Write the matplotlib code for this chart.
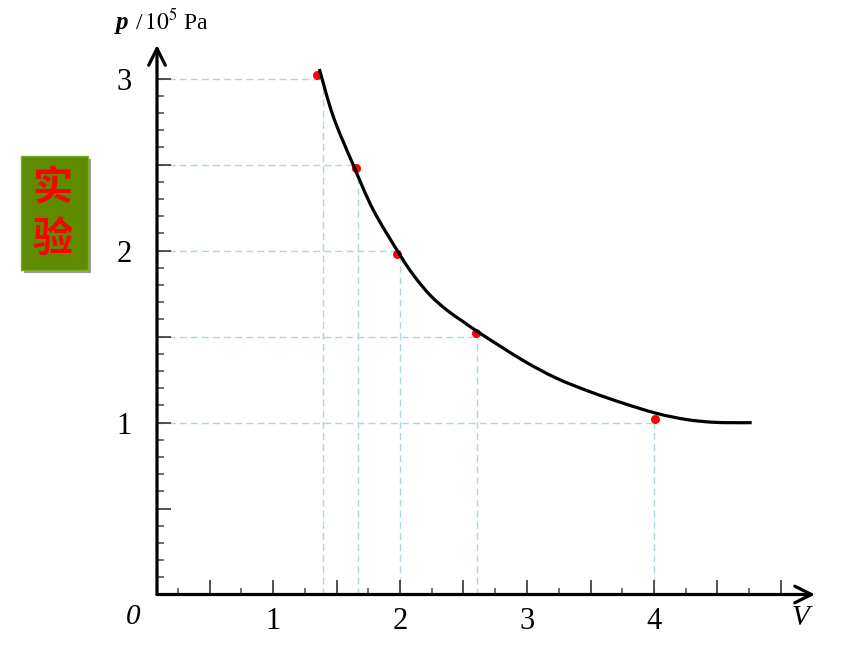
import numpy as np
import matplotlib
matplotlib.use('Agg')
import matplotlib.pyplot as plt
from matplotlib.patches import Rectangle, PathPatch
from matplotlib.path import Path

plt.rcParams['mathtext.fontset'] = 'stix'

# Dashed guide lines (V, p) for the measured states
grid_v = [1.39, 1.67, 2.0, 2.61, 4.0]
grid_p = [3.0, 2.5, 2.0, 1.5, 1.0]

# Measured points (red dots)
point_v = [1.35, 1.65, 1.98, 2.60, 4.01]
point_p = [3.02, 2.48, 1.98, 1.52, 1.02]

# Hand drawn curve through the points
curve_v = [1.365, 1.475, 1.632, 1.790, 2.000, 2.105, 2.236, 2.368, 2.498, 2.630,
           2.971, 3.234, 3.496, 3.758, 4.021, 4.250, 4.450, 4.620, 4.769]
curve_p = [3.055, 2.778, 2.497, 2.235, 1.974, 1.858, 1.741, 1.654, 1.586, 1.519,
           1.360, 1.257, 1.179, 1.112, 1.053, 1.018, 1.002, 0.999, 0.999]

x_labels = ['1', '2', '3', '4']
y_labels = ['1', '2', '3']

W, H = 860, 645
SERIF = 'Liberation Serif'


def fx(px):
    return px / W


def fy(py):
    return 1 - py / H


def smooth_path(xs, ys):
    # Catmull-Rom spline through the points, drawn as cubic Bezier segments
    pts = np.column_stack([xs, ys])
    verts = [pts[0]]
    codes = [Path.MOVETO]
    n = len(pts)
    for i in range(n - 1):
        p0 = pts[max(i - 1, 0)]
        p1 = pts[i]
        p2 = pts[i + 1]
        p3 = pts[min(i + 2, n - 1)]
        verts += [p1 + (p2 - p0) / 6, p2 - (p3 - p1) / 6, p2]
        codes += [Path.CURVE4] * 3
    return Path(verts, codes)


fig = plt.figure(figsize=(8.6, 6.45), dpi=100)

# axes: y axis at pixel x=157, x axis at pixel y=594.5, arrow tips at 815 / 45
ax = fig.add_axes([fx(157), fy(594.5), fx(815) - fx(157), fy(45) - fy(594.5)])
x0 = (157 - 146) / 127
ax.set_xlim(x0, (815 - 146) / 127)
ax.set_ylim(0, (594.5 - 45) / 172)
for s in ax.spines.values():
    s.set_visible(False)

# guide lines
guide = dict(color='#aad9dd', lw=1.0, ls=(0, (5, 3)), zorder=1)
for v, p in zip(grid_v, grid_p):
    ax.plot([x0, v], [p, p], **guide)
    ax.plot([v, v], [0, p], **guide)

ax.plot(point_v, point_p, 'o', color='red', ms=6.5, mec='none', zorder=2)
ax.add_patch(PathPatch(smooth_path(curve_v, curve_p), fill=False,
                       edgecolor='black', lw=2.3, capstyle='butt', zorder=3))

# axes with arrows
arrow = dict(arrowstyle='->,head_length=0.6,head_width=0.3', lw=2.3,
             color='black', shrinkA=0, shrinkB=0, mutation_scale=20)
ax.annotate('', xy=(1, 0), xytext=(0, 0), xycoords='axes fraction',
            arrowprops=arrow, zorder=5)
ax.annotate('', xy=(0, 1), xytext=(0, 0), xycoords='axes fraction',
            arrowprops=arrow, zorder=5)

# ticks
xmaj = np.arange(0.5, 5.01, 0.5)
xmin = np.arange(0.25, 5.01, 0.5)
ax.set_xticks(xmaj, [x_labels[int(v) - 1] if v in (1, 2, 3, 4) else '' for v in xmaj])
ax.set_xticks(xmin, minor=True)
ymaj = np.arange(0.5, 3.01, 0.5)
ymin = np.array([v / 10 for v in range(1, 31) if v % 5])
ax.set_yticks(ymaj, [y_labels[int(v) - 1] if v in (1, 2, 3) else '' for v in ymaj])
ax.set_yticks(ymin, minor=True)
ax.tick_params(axis='x', which='major', direction='in', length=11, width=1.2,
               color='#333333', pad=9, labelsize=22)
ax.tick_params(axis='x', which='minor', direction='in', length=5, width=1.2,
               color='#555555')
ax.tick_params(axis='y', which='major', direction='in', length=10, width=1.2,
               color='#333333', pad=18, labelsize=22)
ax.tick_params(axis='y', which='minor', direction='in', length=5, width=1.2,
               color='#555555')
for lab in ax.get_xticklabels() + ax.get_yticklabels():
    lab.set_fontfamily(SERIF)

# axis labels
fig.text(fx(133), fy(617), '0', ha='center', va='center', fontsize=21,
         family=SERIF, style='italic')
fig.text(fx(800), fy(618), 'V', ha='center', va='center', fontsize=21,
         family=SERIF, style='italic')
fig.text(fx(116), fy(23), 'p', ha='left', va='center', fontsize=18,
         family=SERIF, style='italic', weight='bold')
fig.text(fx(135), fy(22), r'/$\,10^{5}$ Pa', ha='left', va='center',
         fontsize=17, family=SERIF)

# green label box
fig.patches.append(Rectangle((fx(24), fy(273)), fx(67), fy(156) - fy(270),
                             transform=fig.transFigure, facecolor='#9a9a9a',
                             edgecolor='none', zorder=0))
fig.patches.append(Rectangle((fx(21), fy(270)), fx(67), fy(156) - fy(270),
                             transform=fig.transFigure, facecolor='#5e8b00',
                             edgecolor='#76ad2a', lw=1, zorder=1))
fig.text(fx(52), fy(189), '实', ha='center', va='center', fontsize=29,
         color='red', weight='bold', family=['Noto Sans CJK SC', 'DejaVu Sans'])
fig.text(fx(52), fy(239), '验', ha='center', va='center', fontsize=29,
         color='red', weight='bold', family=['Noto Sans CJK SC', 'DejaVu Sans'])

fig.savefig('out.png', dpi=100)
